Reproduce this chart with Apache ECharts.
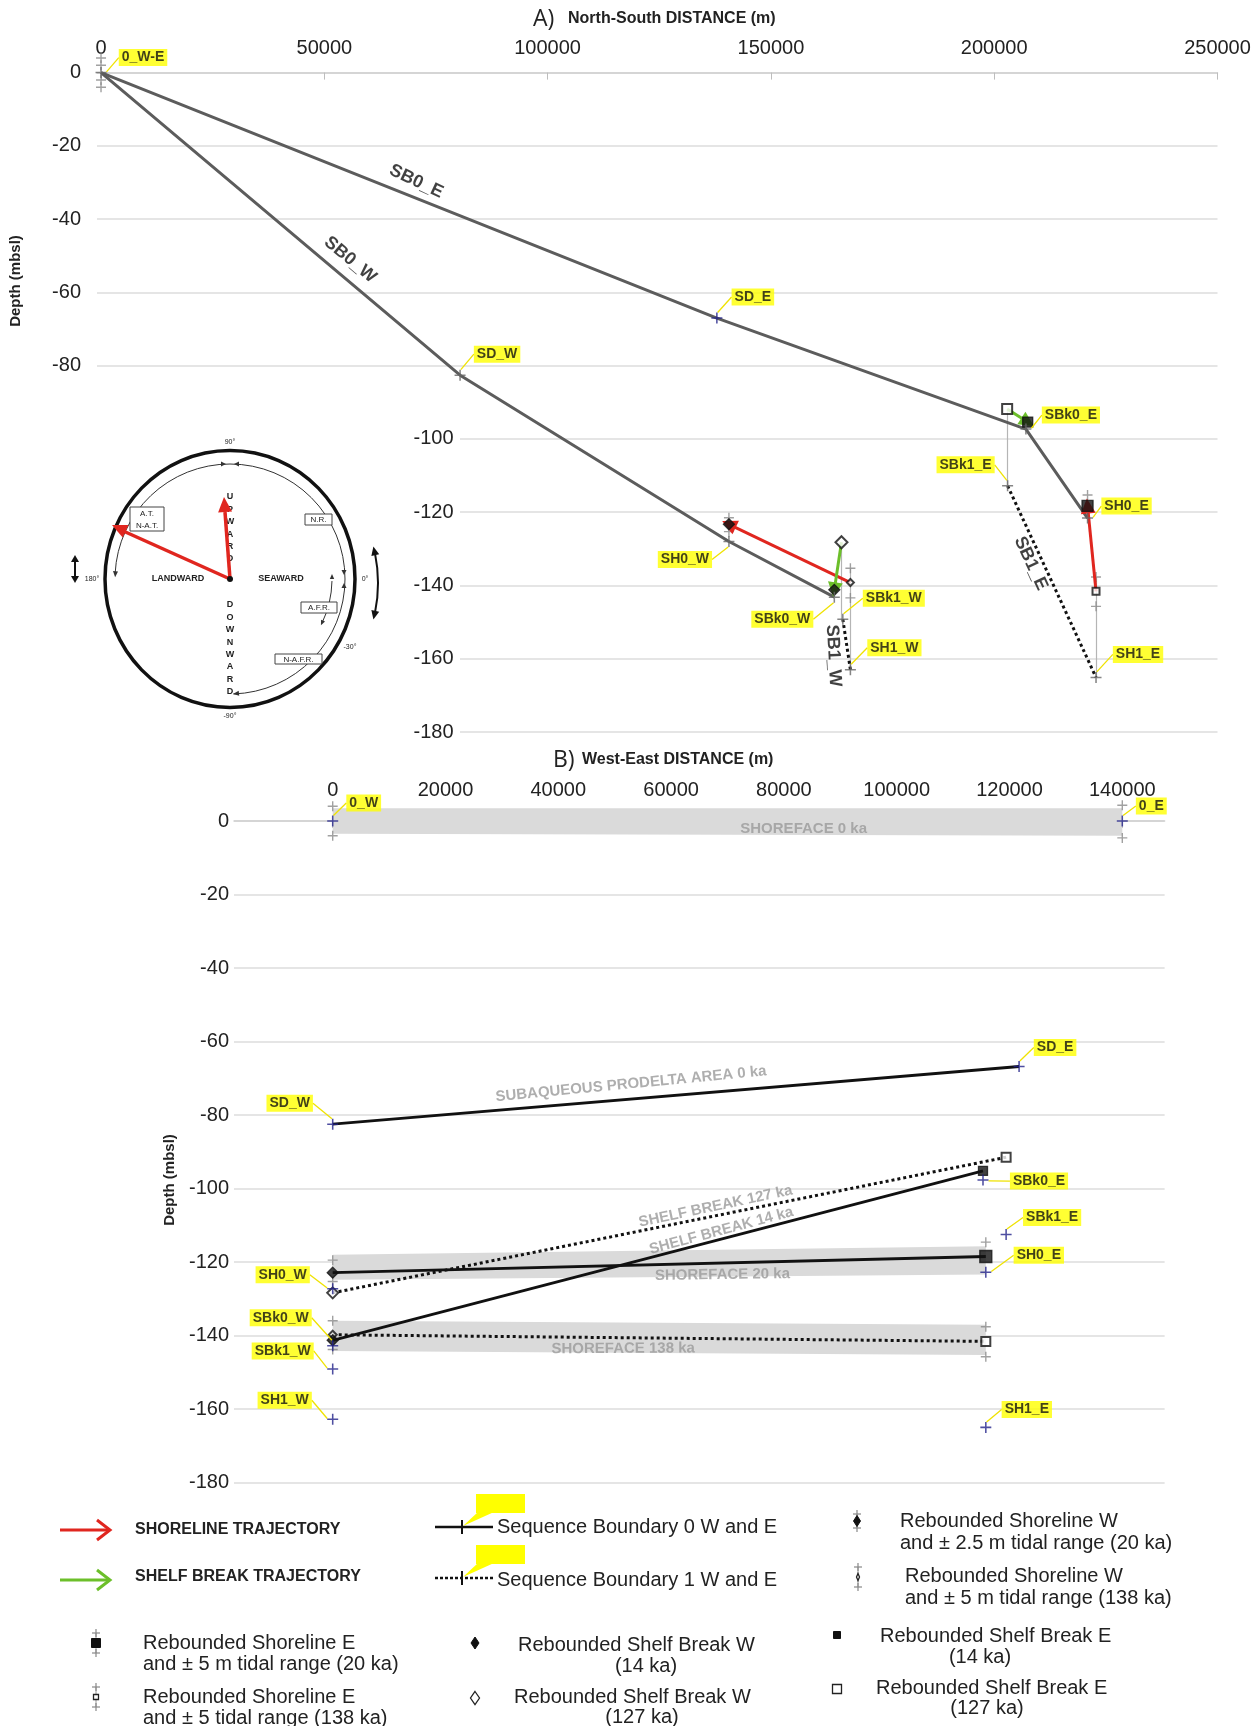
<!DOCTYPE html>
<html>
<head>
<meta charset="utf-8">
<script src="https://cdn.jsdelivr.net/npm/echarts@6/dist/echarts.min.js"></script>
<style>
html,body{margin:0;padding:0;background:#ffffff;}
#chart{width:1256px;height:1726px;}
</style>
</head>
<body>
<div id="chart"></div>
<script>
// ===================== DATA =====================
// ---- Panel A : North-South distance (m) vs depth (mbsl)
const aXTickValues = [0, 50000, 100000, 150000, 200000, 250000];
const bXTickValues = [0, 20000, 40000, 60000, 80000, 100000, 120000, 140000];

const aSB0E_x = [0, 137900, 207100, 220900];
const aSB0E_y = [0, -67.0, -97.3, -121.6];
const aSB0W_x = [0, 80400, 140600, 164200];
const aSB0W_y = [0, -82.6, -128.0, -143.2];
const aSB1E_x = [203000, 222800];
const aSB1E_y = [-112.8, -165.1];
const aSB1W_x = [166100, 167800];
const aSB1W_y = [-149.2, -163.0];

const aPtNames = ['0_W-E', 'SD_E', 'SD_W', 'SBk0_E', 'SBk1_E', 'SH0_E', 'SH0_W', 'SBk0_W', 'SBk1_W', 'SH1_W', 'SH1_E'];
const aPtX = [0, 137900, 80400, 207100, 203000, 220900, 140600, 164200, 166100, 167800, 222800];
const aPtY = [0, -67.0, -82.6, -97.3, -112.8, -121.6, -128.0, -143.2, -149.2, -163.0, -165.1];

// rebounded markers: ShoreE20, ShoreE138, ShoreW20, ShoreW138, BreakW14, BreakW127, BreakE14, BreakE127
const aRebX = [220900, 222800, 140600, 167800, 164200, 165800, 207500, 202900];
const aRebY = [-118.3, -141.6, -123.3, -139.2, -141.2, -128.2, -95.4, -91.8];
// tidal range marks (grey +)
const aErrX = [0, 0, 0, 0, 220900, 222800, 222800, 140600, 140600, 167800, 167800];
const aErrY = [4, 2, -2, -4, -115.3, -137.7, -145.7, -121.5, -125.3, -135.3, -143.4];
// trajectories (index pairs into rebounded arrays: from -> to)
const aShoreTraj = [[3, 2], [1, 0]];
const aShelfTraj = [[5, 4], [7, 6]];
// thin vertical connectors
const aConnX = [202900, 222800, 167800, 165800];
const aConnTop = [-91.8, -137.7, -135.3, -128.2];
const aConnBot = [-112.8, -165.1, -163.0, -149.2];

const aNoteTxt = ['SB0_E', 'SB0_W', 'SB1_E', 'SB1_W'];
const aNoteX = [70600, 55800, 208200, 164000];
const aNoteY = [-29.7, -51.1, -134.0, -159.2];

// ---- Panel B : West-East distance (m) vs depth (mbsl)
const bPtNames = ['0_W', '0_E', 'SD_W', 'SD_E', 'SH0_W', 'SBk0_W', 'SBk1_W', 'SH1_W', 'SBk0_E', 'SBk1_E', 'SH0_E', 'SH1_E'];
const bPtX = [0, 140000, 0, 121700, 0, 0, 0, 0, 115300, 119400, 115800, 115800];
const bPtY = [0, 0, -82.5, -66.8, -127.3, -142.8, -149.1, -162.8, -97.7, -112.5, -122.8, -165.0];

const bRebX = [115800, 115800, 0, 0, 0, 0, 115300, 119400];
const bRebY = [-118.5, -141.6, -122.9, -139.8, -141.3, -128.4, -95.2, -91.5];
const bErrX = [0, 0, 140000, 140000, 115800, 0, 0, 0, 0, 115800, 115800];
const bErrY = [4, -4, 4.3, -4.6, -114.6, -119.5, -125.3, -136, -143.8, -137.6, -145.8];

const bProdelta_x = [0, 121700];
const bProdelta_y = [-82.5, -66.8];
// boundary lines between rebounded points (from idx, to idx)
const bSolidPairs = [[4, 6], [2, 0]];   // shelf break 14 ka, shoreface 20 ka
const bDottedPairs = [[5, 7], [3, 1]];  // shelf break 127 ka, shoreface 138 ka

// shaded shoreface bands: x1, top1, bottom1, x2, top2, bottom2
const bBandX1 = [0, 0, 0];
const bBandTop1 = [3.5, -118, -136];
const bBandBot1 = [-3.5, -124.8, -144.2];
const bBandX2 = [140000, 115800, 115800];
const bBandTop2 = [3.5, -115.7, -137.1];
const bBandBot2 = [-4, -123.4, -145.3];

const bNoteTxt = ['SHOREFACE 0 ka', 'SUBAQUEOUS PRODELTA AREA 0 ka', 'SHELF BREAK 127 ka', 'SHELF BREAK 14 ka', 'SHOREFACE 20 ka', 'SHOREFACE 138 ka'];
const bNoteX = [83500, 52900, 67900, 68900, 69100, 51500];
const bNoteY = [-2.2, -71.6, -104.9, -111.5, -123.5, -143.6];

// ===================== LAYOUT / STYLE =====================
const FONT = 'Liberation Sans, Arial, Helvetica, sans-serif';
const PLUS = 'path://M4.3,0H5.7V4.3H10V5.7H5.7V10H4.3V5.7H0V4.3H4.3Z';
const aLblDX = [42, 36, 37, 45, -42, 39, -44, -52, 51, 44, 42];
const aLblDY = [-15, -21, -21, -14, -21, -12, 18, 22, -21, -22, -23];
const bLblDX = [31, 29, -43, 36, -50, -52, -50, -48, 56, 46, 53, 41];
const bLblDY = [-18, -15, -21, -19, -14, -28, -18, -19, 1, -17, -17, -18];
const aNoteRot = [-25, -40, -65, -87];
const bNoteRot = [0, 5.5, 12, 15, 0.8, 0.3];
const rebSym = ['rect', 'emptyRect', 'diamond', 'emptyDiamond', 'diamond', 'emptyDiamond', 'rect', 'emptyRect'];
const rebSizeA = [11, 7, 11, 7, 11, 12, 10, 10];
const rebSizeB = [12, 9, 11, 8, 11, 11, 9, 9];

function zip(xs, ys) { return xs.map((x, i) => [x, ys[i]]); }

const chart = echarts.init(document.getElementById('chart'), null, {renderer: 'canvas'});

function namedSeries(xi, yi, names, xs, ys, dxs, dys, colorFn) {
  return {
    type: 'scatter', xAxisIndex: xi, yAxisIndex: yi, symbol: PLUS, symbolSize: 11, z: 6,
    data: names.map((n, i) => ({name: n, value: [xs[i], ys[i]], itemStyle: {color: colorFn(n)}})),
    label: {show: true, position: 'inside', formatter: '{b}', backgroundColor: '#ffff00', color: '#111',
      fontWeight: 'bold', fontSize: 14, fontFamily: FONT, padding: [2, 3, 1, 3]},
    labelLayout: function (p) { return {dx: dxs[p.dataIndex], dy: dys[p.dataIndex]}; },
    labelLine: {show: true, lineStyle: {color: '#efe200', width: 1.3}},
    clip: false, silent: true
  };
}
function noteSeries(xi, yi, txt, xs, ys, rots, color, size) {
  return {
    type: 'scatter', xAxisIndex: xi, yAxisIndex: yi, symbolSize: 1, z: 7, silent: true,
    itemStyle: {color: 'transparent'},
    data: txt.map((t, i) => ({name: t, value: [xs[i], ys[i]], label: {rotate: rots[i]}})),
    label: {show: true, position: 'inside', formatter: '{b}', color: color, fontWeight: 'bold',
      fontSize: size, fontFamily: FONT}
  };
}
function rebSeries(xi, yi, xs, ys, sizes) {
  return {
    type: 'scatter', xAxisIndex: xi, yAxisIndex: yi, z: 5, silent: true, clip: false,
    data: xs.map((x, i) => ({value: [x, ys[i]], symbol: rebSym[i], symbolSize: sizes[i],
      itemStyle: {color: '#111', borderColor: '#111', borderWidth: 1.3}}))
  };
}
function errSeries(xi, yi, xs, ys) {
  return {type: 'scatter', xAxisIndex: xi, yAxisIndex: yi, symbol: PLUS, symbolSize: 10, z: 3,
    itemStyle: {color: '#8a8a8a'}, data: zip(xs, ys), silent: true, clip: false};
}
function arrowSeries(pairs, xs, ys, color) {
  return {
    type: 'lines', coordinateSystem: 'cartesian2d', xAxisIndex: 0, yAxisIndex: 0, z: 4, silent: true,
    symbol: ['none', 'triangle'], symbolSize: 15,
    lineStyle: {color: color, width: 3, opacity: 1, curveness: 0},
    itemStyle: {color: color},
    data: pairs.map(p => ({coords: [[xs[p[0]], ys[p[0]]], [xs[p[1]], ys[p[1]]]]}))
  };
}
function lineSeries(xi, yi, data, color, width, type, z) {
  return {type: 'line', xAxisIndex: xi, yAxisIndex: yi, data: data, symbol: 'none', silent: true, z: z || 3,
    lineStyle: {color: color, width: width, type: type}, clip: false};
}

const series = [
  // ---- Panel A
  lineSeries(0, 0, zip(aSB0E_x, aSB0E_y), '#5c5c5c', 3, 'solid'),
  lineSeries(0, 0, zip(aSB0W_x, aSB0W_y), '#5c5c5c', 3, 'solid'),
  lineSeries(0, 0, zip(aSB1E_x, aSB1E_y), '#111', 3, 'dotted'),
  lineSeries(0, 0, zip(aSB1W_x, aSB1W_y), '#111', 3, 'dotted'),
  {type: 'lines', coordinateSystem: 'cartesian2d', xAxisIndex: 0, yAxisIndex: 0, z: 2, silent: true,
    lineStyle: {color: '#b5b5b5', width: 1.2, opacity: 1},
    data: aConnX.map((x, i) => ({coords: [[x, aConnTop[i]], [x, aConnBot[i]]]}))},
  errSeries(0, 0, aErrX, aErrY),
  arrowSeries(aShoreTraj, aRebX, aRebY, '#e0261f'),
  arrowSeries(aShelfTraj, aRebX, aRebY, '#6cbf2a'),
  rebSeries(0, 0, aRebX, aRebY, rebSizeA),
  namedSeries(0, 0, aPtNames, aPtX, aPtY, aLblDX, aLblDY, n => n === 'SD_E' ? '#22228a' : '#666'),
  noteSeries(0, 0, aNoteTxt, aNoteX, aNoteY, aNoteRot, '#111', 18),
  // ---- Panel B
  {type: 'custom', xAxisIndex: 1, yAxisIndex: 2, z: 1, silent: true, clip: false,
    encode: {x: [0, 3], y: [1, 2, 4, 5]},
    data: bBandX1.map((x, i) => [x, bBandTop1[i], bBandBot1[i], bBandX2[i], bBandTop2[i], bBandBot2[i]]),
    renderItem: function (params, api) {
      const p1 = api.coord([api.value(0), api.value(1)]);
      const p2 = api.coord([api.value(3), api.value(4)]);
      const p3 = api.coord([api.value(3), api.value(5)]);
      const p4 = api.coord([api.value(0), api.value(2)]);
      return {type: 'polygon', shape: {points: [p1, p2, p3, p4]}, style: {fill: '#dadada'}};
    }},
  lineSeries(1, 2, zip(bProdelta_x, bProdelta_y), '#111', 2.8, 'solid'),
  ...bSolidPairs.map(p => lineSeries(1, 2, [[bRebX[p[0]], bRebY[p[0]]], [bRebX[p[1]], bRebY[p[1]]]], '#111', 2.8, 'solid')),
  ...bDottedPairs.map(p => lineSeries(1, 2, [[bRebX[p[0]], bRebY[p[0]]], [bRebX[p[1]], bRebY[p[1]]]], '#111', 3, 'dotted')),
  errSeries(1, 2, bErrX, bErrY),
  rebSeries(1, 2, bRebX, bRebY, rebSizeB),
  namedSeries(1, 2, bPtNames, bPtX, bPtY, bLblDX, bLblDY, n => '#22228a'),
  noteSeries(1, 2, bNoteTxt, bNoteX, bNoteY, bNoteRot, '#9a9a9a', 15)
];

// ===================== GRAPHICS (titles, inset, legend) =====================
const g = [];
function txt(x, y, s, opt) {
  opt = opt || {};
  g.push({type: 'text', x: x, y: y, rotation: opt.rot || 0, z: opt.z || 120,
    style: {text: s, fill: opt.color || '#222', align: opt.align || 'left', verticalAlign: 'middle',
      font: (opt.weight || 'normal') + ' ' + (opt.size || 20) + 'px ' + (opt.family || FONT)}});
}
function tri(tx, ty, fx, fy, len, half, color) {
  const dx = tx - fx, dy = ty - fy, L = Math.hypot(dx, dy), ux = dx / L, uy = dy / L;
  const bx = tx - ux * len, by = ty - uy * len;
  g.push({type: 'polygon', z: 115, shape: {points: [[tx, ty], [bx - uy * half, by + ux * half], [bx + uy * half, by - ux * half]]}, style: {fill: color}});
}
function seg(x1, y1, x2, y2, color, w, dash, z) {
  g.push({type: 'line', z: z || 112, shape: {x1: x1, y1: y1, x2: x2, y2: y2}, style: {stroke: color, lineWidth: w, lineDash: dash || null}});
}
function boxTxt(x, y, w, h, lines) {
  g.push({type: 'rect', z: 113, shape: {x: x, y: y, width: w, height: h}, style: {fill: '#fff', stroke: '#444', lineWidth: 1}});
  lines.forEach((s, i) => txt(x + w / 2, y + (h / lines.length) * (i + 0.5) + 0.5, s, {size: 8, align: 'center', z: 114, color: '#222'}));
}

// titles
txt(533, 19, 'A)', {size: 23, family: 'Open Sans, ' + FONT});
txt(568, 19, 'North-South DISTANCE (m)', {size: 16, weight: 'bold'});
txt(553, 760, 'B)', {size: 23, family: 'Open Sans, ' + FONT});
txt(582, 760, 'West-East DISTANCE (m)', {size: 16, weight: 'bold'});
txt(16, 281, 'Depth (mbsl)', {size: 15, weight: 'bold', align: 'center', rot: Math.PI / 2});
txt(170, 1180, 'Depth (mbsl)', {size: 15, weight: 'bold', align: 'center', rot: Math.PI / 2});

// inset: white background covering the left of the lower grid lines
g.push({type: 'rect', z: 100, shape: {x: 95, y: 384, width: 365, height: 354}, style: {fill: '#ffffff'}});
const cx = 230, cy = 579;
g.push({type: 'ellipse', z: 111, shape: {cx: cx, cy: cy, rx: 125, ry: 128.5}, style: {fill: 'none', stroke: '#111', lineWidth: 3.5}});
g.push({type: 'arc', z: 111, shape: {cx: cx, cy: cy, r: 115, startAngle: -Math.PI / 2, endAngle: -Math.PI + 0.05, clockwise: false}, style: {fill: 'none', stroke: '#333', lineWidth: 1}});
g.push({type: 'arc', z: 111, shape: {cx: cx, cy: cy, r: 115, startAngle: -Math.PI / 2, endAngle: Math.PI / 2 - 0.03, clockwise: true}, style: {fill: 'none', stroke: '#333', lineWidth: 1}});
tri(cx - 115 * Math.cos(0.05), cy - 115 * Math.sin(0.05) + 4, cx - 115 * Math.cos(0.12), cy - 115 * Math.sin(0.12), 6, 2.5, '#333');
tri(cx + 3, cy + 115, cx + 12, cy + 114, 6, 2.5, '#333');
tri(cx - 4, cy - 115, cx - 10, cy - 115, 5, 2.5, '#333');
tri(cx + 4, cy - 115, cx + 10, cy - 115, 5, 2.5, '#333');
tri(cx + 114, cy - 4, cx + 114, cy - 10, 5, 2.5, '#333');
tri(cx + 114, cy + 4, cx + 114, cy + 10, 5, 2.5, '#333');
// small A.F.R. arc arrow
g.push({type: 'arc', z: 111, shape: {cx: cx, cy: cy, r: 102, startAngle: 0.02, endAngle: 0.45, clockwise: true}, style: {fill: 'none', stroke: '#333', lineWidth: 1}});
tri(cx + 102, cy - 5, cx + 102, cy + 3, 5, 2.2, '#333');
tri(cx + 102 * Math.cos(0.47), cy + 102 * Math.sin(0.47), cx + 102 * Math.cos(0.40), cy + 102 * Math.sin(0.40), 5, 2.2, '#333');
// degree labels
txt(cx, 442, '90°', {size: 7, align: 'center'});
txt(92, cy, '180°', {size: 7, align: 'center'});
txt(365, cy, '0°', {size: 7, align: 'center'});
txt(cx, 716, '-90°', {size: 7, align: 'center'});
txt(350, 647, '-30°', {size: 7, align: 'center'});
txt(178, cy, 'LANDWARD', {size: 9, weight: 'bold', align: 'center'});
txt(281, cy, 'SEAWARD', {size: 9, weight: 'bold', align: 'center'});
'UPWARD'.split('').forEach((c, i) => txt(cx, 497 + i * 12.4, c, {size: 9, weight: 'bold', align: 'center', z: 112}));
'DOWNWARD'.split('').forEach((c, i) => txt(cx, 605 + i * 12.4, c, {size: 9, weight: 'bold', align: 'center'}));
boxTxt(130, 507, 34, 24, ['A.T.', 'N-A.T.']);
boxTxt(305, 514, 27, 11, ['N.R.']);
boxTxt(301, 602, 36, 11, ['A.F.R.']);
boxTxt(275, 654, 47, 10, ['N-A.F.R.']);
// red arrows in the inset
seg(cx, cy, 121, 530, '#e0261f', 3.5, null, 116);
tri(112, 525, cx, cy, 15, 7, '#e0261f');
seg(cx, cy, 225, 512, '#e0261f', 3.5, null, 116);
tri(224, 497, cx, cy, 15, 7, '#e0261f');
g.push({type: 'circle', z: 117, shape: {cx: cx, cy: cy, r: 3}, style: {fill: '#111'}});
// outer double arrows
seg(75, 560, 75, 578, '#111', 2);
tri(75, 555, 75, 565, 7, 4, '#111');
tri(75, 583, 75, 573, 7, 4, '#111');
g.push({type: 'arc', z: 111, shape: {cx: cx, cy: 583, r: 148, startAngle: -0.2, endAngle: 0.2, clockwise: true}, style: {fill: 'none', stroke: '#111', lineWidth: 2}});
tri(cx + 148 * Math.cos(-0.25), 583 + 148 * Math.sin(-0.25), cx + 148 * Math.cos(-0.17), 583 + 148 * Math.sin(-0.17), 9, 4, '#111');
tri(cx + 148 * Math.cos(0.25), 583 + 148 * Math.sin(0.25), cx + 148 * Math.cos(0.17), 583 + 148 * Math.sin(0.17), 9, 4, '#111');

// ---- bottom legend
function legArrow(y, color) {
  seg(60, y, 109, y, color, 3);
  g.push({type: 'polyline', z: 112, shape: {points: [[97, y - 10], [110, y], [97, y + 10]]}, style: {stroke: color, lineWidth: 3, fill: 'none'}});
}
legArrow(1530, '#e0261f');
txt(135, 1530, 'SHORELINE TRAJECTORY', {size: 16, weight: 'bold'});
legArrow(1580, '#6cbf2a');
txt(135, 1577, 'SHELF BREAK TRAJECTORY', {size: 16, weight: 'bold'});

function legSeq(y, dash) {
  seg(435, y, 493, y, '#111', 2.5, dash);
  seg(462, y - 7, 462, y + 7, '#111', 2);
  g.push({type: 'rect', z: 112, shape: {x: 476, y: y - 33, width: 49, height: 19}, style: {fill: '#ffff00'}});
  g.push({type: 'polygon', z: 112, shape: {points: [[478, y - 15], [494, y - 15], [463, y - 1]]}, style: {fill: '#ffff00'}});
}
legSeq(1527, null);
txt(497, 1527, 'Sequence Boundary 0 W and E', {size: 20});
legSeq(1578, [3, 2]);
txt(497, 1580, 'Sequence Boundary 1 W and E', {size: 20});

function legPlus(x, y) {
  seg(x - 4, y, x + 4, y, '#888', 1.2);
  seg(x, y - 4, x, y + 4, '#888', 1.2);
}
function legMarker(type, x, y, s, filled, errs) {
  if (errs) { legPlus(x, y - errs); legPlus(x, y + errs); seg(x, y - errs, x, y + errs, '#999', 1, null, 111); }
  const st = filled ? {fill: '#111', stroke: '#111', lineWidth: 1} : {fill: '#fff', stroke: '#222', lineWidth: 1.3};
  if (type === 'rect') g.push({type: 'rect', z: 113, shape: {x: x - s / 2, y: y - s / 2, width: s, height: s}, style: st});
  else g.push({type: 'polygon', z: 113, shape: {points: [[x, y - s / 2 - 1], [x + s / 2 - 1, y], [x, y + s / 2 + 1], [x - s / 2 + 1, y]]}, style: st});
}
legMarker('diamond', 857, 1521, 9, true, 7);
txt(900, 1521, 'Rebounded Shoreline W', {size: 20});
txt(900, 1543, 'and ± 2.5 m tidal range (20 ka)', {size: 20});
legMarker('diamond', 858, 1577, 5, false, 10);
txt(905, 1576, 'Rebounded Shoreline W', {size: 20});
txt(905, 1598, 'and ± 5 m tidal range (138 ka)', {size: 20});

legMarker('rect', 96, 1643, 9, true, 10);
txt(143, 1643, 'Rebounded Shoreline E', {size: 20});
txt(143, 1664, 'and ± 5 m tidal range (20 ka)', {size: 20});
legMarker('rect', 96, 1697, 5, false, 10);
txt(143, 1697, 'Rebounded Shoreline E', {size: 20});
txt(143, 1718, 'and ± 5 tidal range (138 ka)', {size: 20});

legMarker('diamond', 475, 1643, 10, true, 0);
txt(518, 1645, 'Rebounded Shelf Break W', {size: 20});
txt(646, 1666, '(14 ka)', {size: 20, align: 'center'});
legMarker('diamond', 475, 1698, 11, false, 0);
txt(514, 1697, 'Rebounded Shelf Break W', {size: 20});
txt(642, 1717, '(127 ka)', {size: 20, align: 'center'});

legMarker('rect', 837, 1635, 7, true, 0);
txt(880, 1636, 'Rebounded Shelf Break E', {size: 20});
txt(980, 1657, '(14 ka)', {size: 20, align: 'center'});
legMarker('rect', 837, 1689, 9, false, 0);
txt(876, 1688, 'Rebounded Shelf Break E', {size: 20});
txt(987, 1708, '(127 ka)', {size: 20, align: 'center'});

// ===================== OPTION =====================
const splitStyle = {show: true, lineStyle: {color: '#dcdcdc', width: 1.5}};
const labelStyle = {fontSize: 20, color: '#222', fontFamily: FONT};
const rawFmt = v => String(v);
const option = {
  backgroundColor: '#ffffff',
  animation: false,
  grid: [
    {left: 97, top: 72.6, width: 1120.5, height: 659.4, outerBoundsMode: 'none'},
    {left: 234, top: 821, width: 930.6, height: 661.5, outerBoundsMode: 'none'}
  ],
  xAxis: [
    {gridIndex: 0, type: 'value', position: 'top', min: -900, max: 250000,
      axisLine: {show: true, lineStyle: {color: '#d0d0d0', width: 1.5}},
      axisTick: {show: true, inside: true, length: 7, customValues: aXTickValues, lineStyle: {color: '#bdbdbd'}},
      axisLabel: Object.assign({customValues: aXTickValues, margin: 14, formatter: rawFmt}, labelStyle),
      splitLine: {show: false}},
    {gridIndex: 1, type: 'value', position: 'top', min: -17500, max: 147500,
      axisLine: {show: true, lineStyle: {color: '#d0d0d0', width: 1.5}},
      axisTick: {show: true, inside: true, length: 7, customValues: bXTickValues, lineStyle: {color: '#bdbdbd'}},
      axisLabel: Object.assign({customValues: bXTickValues, margin: 21, formatter: rawFmt}, labelStyle),
      splitLine: {show: false}}
  ],
  yAxis: [
    {gridIndex: 0, type: 'value', position: 'left', min: -180, max: 0, interval: 20,
      axisLine: {show: false}, axisTick: {show: false},
      axisLabel: Object.assign({margin: 16, formatter: v => (v >= -80 ? String(v) : '')}, labelStyle),
      splitLine: splitStyle},
    {gridIndex: 0, type: 'value', position: 'left', min: -180, max: 0, interval: 20, offset: -364.5, z: 200,
      axisLine: {show: false}, axisTick: {show: false},
      axisLabel: Object.assign({margin: 8, formatter: v => (v <= -100 ? String(v) : '')}, labelStyle),
      splitLine: {show: false}},
    {gridIndex: 1, type: 'value', position: 'left', min: -180, max: 0, interval: 20,
      axisLine: {show: false}, axisTick: {show: false},
      axisLabel: Object.assign({margin: 5}, labelStyle),
      splitLine: splitStyle}
  ],
  graphic: {elements: g},
  series: series
};
chart.setOption(option);
</script>
</body>
</html>
